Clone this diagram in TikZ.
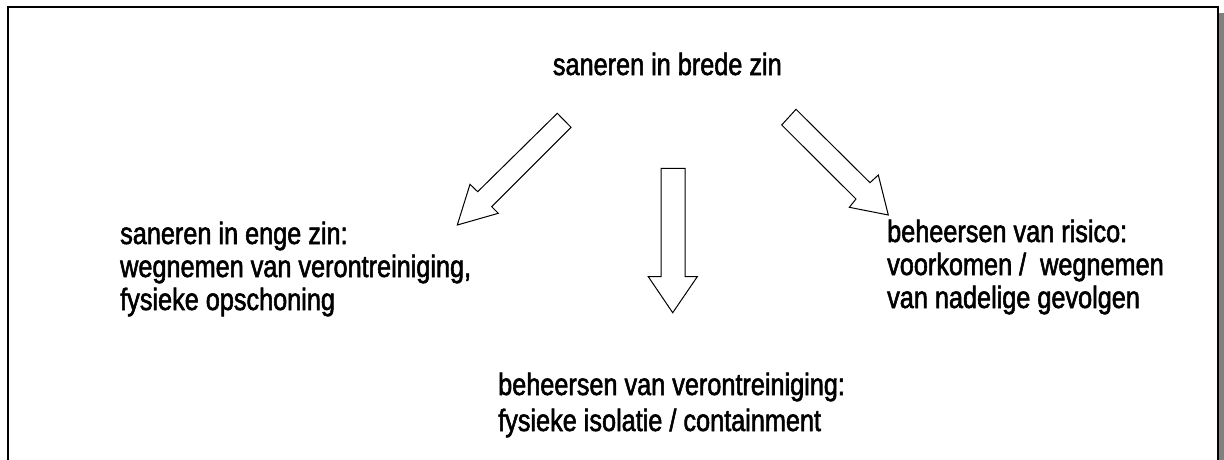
\documentclass[tikz,border=0pt]{standalone}
\usepackage{fontspec}
\setmainfont{Liberation Sans}[FakeStretch=0.82, FakeBold=1.8]
\begin{document}
\begin{tikzpicture}[x=1pt, y=-1pt,
    lbl/.style={anchor=base west, inner sep=0pt, font=\fontsize{30.8}{33}\selectfont},
    blockarrow/.style={draw=black, line width=1pt, line join=miter, fill=white}]
  \useasboundingbox (0,0) rectangle (1224,460);
  % frame with a shadow on the right
  \fill[black!50] (1219,13) rectangle (1224,460);
  \draw[line width=2pt] (8,460) -- (8,7) -- (1217.5,7) -- (1217.5,460);

  % labels
  \node[lbl] (top) at (552.7,75) {saneren in brede zin};

  \node[lbl] (l1) at (120,244) {saneren in enge zin:};
  \node[lbl] (l2) at (120,277) {wegnemen van verontreiniging,};
  \node[lbl] (l3) at (120,310) {fysieke opschoning};

  \node[lbl] (r1) at (887,242) {beheersen van risico:};
  \node[lbl] (r2) at (887,275) {voorkomen /\ \ wegnemen};
  \node[lbl] (r3) at (887,308) {van nadelige gevolgen};

  \node[lbl] (m1) at (498,395) {beheersen van verontreiniging:};
  \node[lbl] (m2) at (498,431) {fysieke isolatie / containment};

  % block arrows
  \draw[blockarrow] (557.3,113.3) -- (571,127.3) -- (491.7,206.7) -- (498.3,213.3)
    -- (457.3,225) -- (470,184.3) -- (477.7,191.7) -- cycle;
  \draw[blockarrow] (661,168.3) -- (685,168.3) -- (685,276.7) -- (697.3,276.7)
    -- (672.7,312.7) -- (648.3,276.7) -- (661,276.7) -- cycle;
  \draw[blockarrow] (796,109.3) -- (870,182.7) -- (878.3,175) -- (888.3,215)
    -- (849.3,207.3) -- (856,199) -- (781.7,125) -- cycle;
\end{tikzpicture}
\end{document}
